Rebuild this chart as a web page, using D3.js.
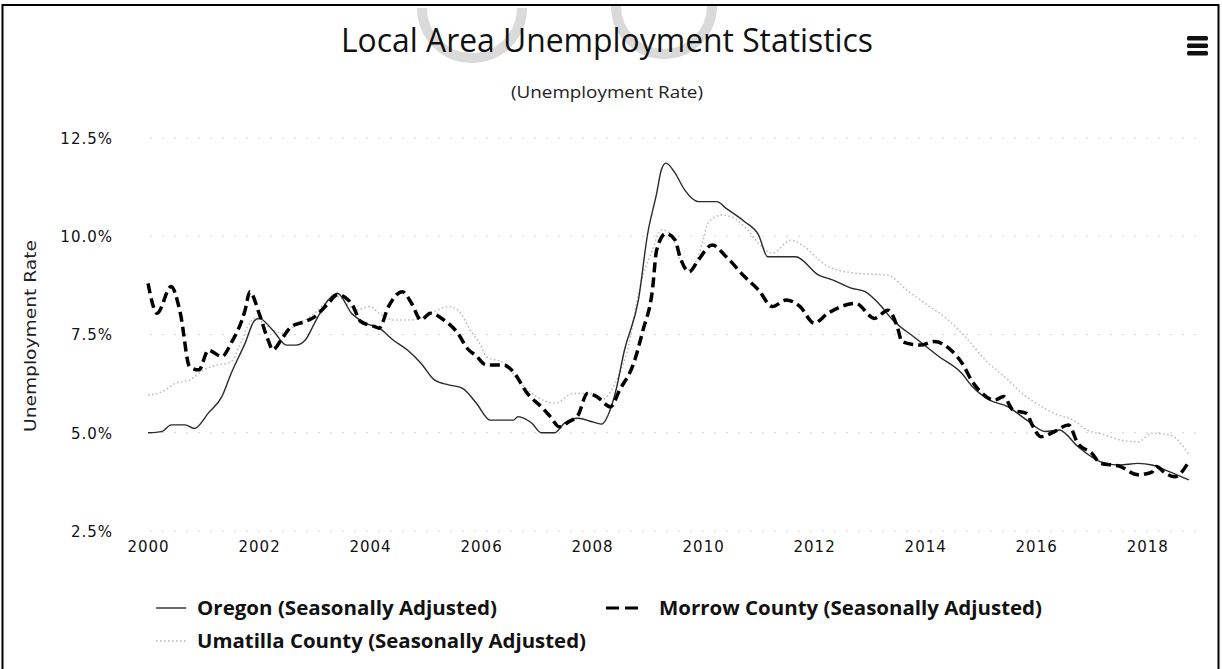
<!DOCTYPE html>
<html>
<head>
<meta charset="utf-8">
<script src="https://cdn.jsdelivr.net/npm/d3@7"></script>
<style>
  html, body { margin: 0; padding: 0; background: #fff; }
  svg { display: block; }
</style>
</head>
<body>
<div id="chart"></div>
<script>
// ---------------- DATA ----------------
const chartTitle = "Local Area Unemployment Statistics";
const chartSubtitle = "(Unemployment Rate)";
const yAxisTitle = "Unemployment Rate";
const yTicks = [2.5, 5.0, 7.5, 10.0, 12.5];
const xTickYears = [2000, 2002, 2004, 2006, 2008, 2010, 2012, 2014, 2016, 2018];
const seriesNames = [
  "Oregon (Seasonally Adjusted)",
  "Morrow County (Seasonally Adjusted)",
  "Umatilla County (Seasonally Adjusted)"
];

const oregon = [
  ["2000-01",5.0],["2000-04",5.03],["2000-06",5.2],["2000-09",5.2],["2000-11",5.11],
  ["2001-02",5.5],["2001-05",5.92],["2001-07",6.51],["2001-10",7.28],["2001-12",7.85],
  ["2002-01",7.91],["2002-04",7.61],["2002-07",7.23],["2002-09",7.23],["2002-11",7.36],
  ["2003-01",7.79],["2003-04",8.38],["2003-06",8.55],["2003-09",8.04],["2003-12",7.79],
  ["2004-03",7.66],["2004-06",7.36],["2004-09",7.11],["2004-12",6.77],["2005-03",6.34],
  ["2005-06",6.22],["2005-09",6.13],["2005-12",5.75],["2006-03",5.32],["2006-08",5.32],
  ["2006-09",5.41],["2006-12",5.24],["2007-02",5.0],["2007-05",5.0],["2007-07",5.24],
  ["2007-10",5.37],["2008-01",5.28],["2008-03",5.22],["2008-06",6.0],["2008-08",7.1],
  ["2008-11",8.38],["2009-01",10.07],["2009-03",11.09],["2009-04",11.69],["2009-05",11.86],
  ["2009-07",11.6],["2009-09",11.18],["2009-12",10.88],["2010-04",10.88],["2010-06",10.71],
  ["2010-10",10.37],["2011-01",10.03],["2011-03",9.48],["2011-09",9.48],["2012-02",9.01],
  ["2012-05",8.89],["2012-09",8.68],["2012-12",8.59],["2013-03",8.29],["2013-06",7.87],
  ["2013-11",7.40],["2014-04",6.94],["2014-09",6.5],["2014-11",6.2],["2015-03",5.83],
  ["2015-07",5.66],["2015-11",5.32],["2016-03",5.03],["2016-06",5.07],["2016-10",4.65],
  ["2017-03",4.26],["2017-07",4.18],["2017-11",4.22],["2018-02",4.18],["2018-05",4.05],
  ["2018-10",3.8]
];

const morrow = [
  ["2000-01",8.8],["2000-03",8.04],["2000-06",8.72],["2000-08",8.04],["2000-10",6.68],
  ["2000-12",6.6],["2001-02",7.1],["2001-05",6.94],["2001-07",7.28],["2001-10",8.12],
  ["2001-11",8.59],["2002-01",8.04],["2002-03",7.36],["2002-04",7.11],["2002-06",7.4],
  ["2002-08",7.7],["2002-11",7.83],["2003-01",7.95],["2003-04",8.29],["2003-06",8.51],
  ["2003-09",8.29],["2003-11",7.83],["2004-02",7.7],["2004-03",7.66],["2004-05",8.21],
  ["2004-08",8.59],["2004-10",8.29],["2004-12",7.87],["2005-02",8.04],["2005-05",7.87],
  ["2005-08",7.53],["2005-10",7.15],["2005-12",6.95],["2006-02",6.73],["2006-06",6.72],
  ["2006-08",6.55],["2006-11",6.0],["2007-02",5.66],["2007-04",5.41],["2007-06",5.15],
  ["2007-08",5.28],["2007-10",5.45],["2007-12",6.0],["2008-02",5.92],["2008-05",5.66],
  ["2008-07",6.09],["2008-10",6.77],["2008-12",7.61],["2009-02",8.63],["2009-03",9.65],
  ["2009-05",10.07],["2009-07",9.9],["2009-08",9.48],["2009-10",9.1],["2009-12",9.4],
  ["2010-03",9.78],["2010-06",9.48],["2010-10",8.97],["2011-01",8.63],["2011-04",8.21],
  ["2011-07",8.38],["2011-10",8.21],["2012-01",7.79],["2012-04",8.04],["2012-10",8.29],
  ["2013-02",7.91],["2013-05",8.12],["2013-07",7.7],["2013-08",7.32],["2013-12",7.23],
  ["2014-03",7.32],["2014-07",7.06],["2014-09",6.77],["2014-11",6.34],["2015-01",6.04],
  ["2015-04",5.83],["2015-06",5.92],["2015-08",5.58],["2015-11",5.49],["2015-12",5.24],
  ["2016-02",4.9],["2016-05",5.03],["2016-08",5.2],["2016-10",4.73],["2017-01",4.48],
  ["2017-03",4.22],["2017-07",4.15],["2017-11",3.93],["2018-02",4.0],["2018-03",4.14],
  ["2018-05",3.97],["2018-07",3.88],["2018-10",4.26]
];

const umatilla = [
  ["2000-01",5.96],["2000-04",6.04],["2000-07",6.26],["2000-10",6.34],["2001-01",6.6],
  ["2001-04",6.72],["2001-07",6.81],["2001-09",7.28],["2001-11",7.79],["2001-12",7.91],
  ["2002-03",7.7],["2002-06",7.53],["2002-09",7.74],["2003-01",8.04],["2003-04",8.38],
  ["2003-06",8.46],["2003-10",8.12],["2004-01",8.21],["2004-03",8.04],["2004-06",7.87],
  ["2004-10",7.87],["2005-02",8.04],["2005-06",8.21],["2005-08",8.12],["2005-11",7.55],
  ["2006-01",7.2],["2006-02",6.94],["2006-06",6.77],["2006-09",6.34],["2007-01",5.92],
  ["2007-05",5.75],["2007-09",6.0],["2008-01",6.0],["2008-03",5.83],["2008-06",6.26],
  ["2008-09",7.28],["2008-11",8.55],["2009-02",9.65],["2009-04",10.16],["2009-06",10.07],
  ["2009-08",9.4],["2009-10",9.14],["2010-01",9.9],["2010-02",10.33],["2010-05",10.54],
  ["2010-07",10.5],["2010-10",10.24],["2011-01",9.82],["2011-04",9.57],["2011-08",9.9],
  ["2011-11",9.73],["2012-02",9.4],["2012-04",9.23],["2012-10",9.06],["2013-05",9.01],
  ["2013-09",8.63],["2014-01",8.29],["2014-06",7.87],["2014-10",7.4],["2015-02",6.85],
  ["2015-07",6.34],["2015-10",6.0],["2016-01",5.75],["2016-05",5.49],["2016-09",5.32],
  ["2016-12",5.07],["2017-04",4.94],["2017-07",4.82],["2017-11",4.77],["2018-02",4.99],
  ["2018-06",4.94],["2018-10",4.45]
];

// ---------------- LAYOUT ----------------
const W = 1222, H = 669;
const parse = d3.timeParse("%Y-%m");
const svg = d3.select("#chart").append("svg").attr("width", W).attr("height", H);

svg.append("rect").attr("x", 0).attr("y", 0).attr("width", W).attr("height", H).attr("fill", "#fff");

// watermark arcs (faint)
const wm = svg.append("g").attr("fill", "none").attr("stroke", "#dadada");
wm.append("path").attr("d", d3.arc()({innerRadius: 50, outerRadius: 50, startAngle: Math.PI*0.5, endAngle: Math.PI*1.5}))
  .attr("transform", "translate(472,8)").attr("stroke-width", 10);
wm.append("path").attr("d", d3.arc()({innerRadius: 48, outerRadius: 48, startAngle: Math.PI*0.5, endAngle: Math.PI*1.5}))
  .attr("transform", "translate(664,6)").attr("stroke-width", 10);

// frame
svg.append("rect").attr("x", 2.5).attr("y", 5).attr("width", 1216).attr("height", 680)
  .attr("fill", "none").attr("stroke", "#000").attr("stroke-width", 2);

const x = d3.scaleTime()
  .domain([parse("2000-01"), parse("2018-12")])
  .range([148, 1198]);
const y = d3.scaleLinear().domain([2.5, 12.5]).range([531, 138]);

const font = "'DejaVu Sans', sans-serif";
const condensed = "'Open Sans', sans-serif";

// title / subtitle
svg.append("text").attr("x", 607).attr("y", 52).attr("text-anchor", "middle")
  .attr("font-family", condensed).attr("font-size", 32).attr("fill", "#111")
  .attr("textLength", 532).attr("lengthAdjust", "spacingAndGlyphs")
  .text(chartTitle);
svg.append("text").attr("x", 607).attr("y", 98).attr("text-anchor", "middle")
  .attr("font-family", condensed).attr("font-size", 16).attr("fill", "#222")
  .attr("textLength", 192).attr("lengthAdjust", "spacingAndGlyphs")
  .text(chartSubtitle);

// hamburger icon
const hb = svg.append("g").attr("fill", "#111");
[36, 43.5, 51].forEach(yy => hb.append("rect").attr("x", 1187).attr("y", yy).attr("width", 21).attr("height", 4.5).attr("rx", 1.5));

// gridlines
svg.append("g").selectAll("line").data(yTicks).join("line")
  .attr("x1", 150).attr("x2", 1198)
  .attr("y1", d => y(d)).attr("y2", d => y(d))
  .attr("stroke", "#d2d2d2").attr("stroke-width", 1).attr("stroke-dasharray", "2,10");

// y axis labels
const yAxis = d3.axisLeft(y).tickValues(yTicks).tickSize(0).tickPadding(0)
  .tickFormat(d => d3.format(".1f")(d) + "%");
const gy = svg.append("g").attr("transform", "translate(113,0)").call(yAxis);
gy.select(".domain").remove();
gy.selectAll("text").attr("font-family", font).attr("font-size", 15).attr("fill", "#111")
  .attr("letter-spacing", "1px").attr("dy", "0.35em");

// x axis labels
const xAxis = d3.axisBottom(x).tickValues(xTickYears.map(yr => new Date(yr, 0, 1)))
  .tickSize(0).tickPadding(0).tickFormat(d3.timeFormat("%Y"));
const gx = svg.append("g").attr("transform", "translate(0,547)").call(xAxis);
gx.select(".domain").remove();
gx.selectAll("text").attr("font-family", font).attr("font-size", 15).attr("fill", "#111")
  .attr("letter-spacing", "1px").attr("dy", "0.3em");

// y axis title
svg.append("text").attr("transform", "translate(36,336) rotate(-90)").attr("text-anchor", "middle")
  .attr("font-family", font).attr("font-size", 16).attr("fill", "#222")
  .attr("textLength", 192).attr("lengthAdjust", "spacingAndGlyphs")
  .text(yAxisTitle);

// lines
const line = d3.line().x(d => x(parse(d[0]))).y(d => y(d[1])).curve(d3.curveMonotoneX);
const styles = [
  {data: oregon, stroke: "#2a2a2a", width: 1.4, dash: null},
  {data: morrow, stroke: "#000", width: 3.5, dash: "10,5"},
  {data: umatilla, stroke: "#b8b8b8", width: 1.5, dash: "1.5,2.5"}
];
const order = [2, 0, 1];
order.forEach(i => {
  const s = styles[i];
  svg.append("path").datum(s.data).attr("d", line)
    .attr("fill", "none").attr("stroke", s.stroke).attr("stroke-width", s.width)
    .attr("stroke-dasharray", s.dash).attr("stroke-linejoin", "round");
});

// legend
const legendItems = [
  {name: seriesNames[0], sx: 156, sl: 30, dash: null, ty: 608, tx: 197, tl: 300, st: styles[0]},
  {name: seriesNames[1], sx: 606, sl: 33, dash: "13,6", ty: 608, tx: 659, tl: 383, st: styles[1]},
  {name: seriesNames[2], sx: 156, sl: 30, dash: "1.5,2.5", ty: 641, tx: 197, tl: 389, st: styles[2]}
];
const lg = svg.append("g");
legendItems.forEach(it => {
  lg.append("line").attr("x1", it.sx).attr("x2", it.sx + it.sl).attr("y1", it.ty).attr("y2", it.ty)
    .attr("stroke", it.st.stroke).attr("stroke-width", it.st.width === 3.5 ? 3 : it.st.width)
    .attr("stroke-dasharray", it.dash);
  lg.append("text").attr("x", it.tx).attr("y", it.ty).attr("dy", "0.35em")
    .attr("font-family", condensed).attr("font-weight", "bold").attr("font-size", 20)
    .attr("fill", "#111").attr("textLength", it.tl).attr("lengthAdjust", "spacingAndGlyphs")
    .text(it.name);
});
</script>
</body>
</html>
